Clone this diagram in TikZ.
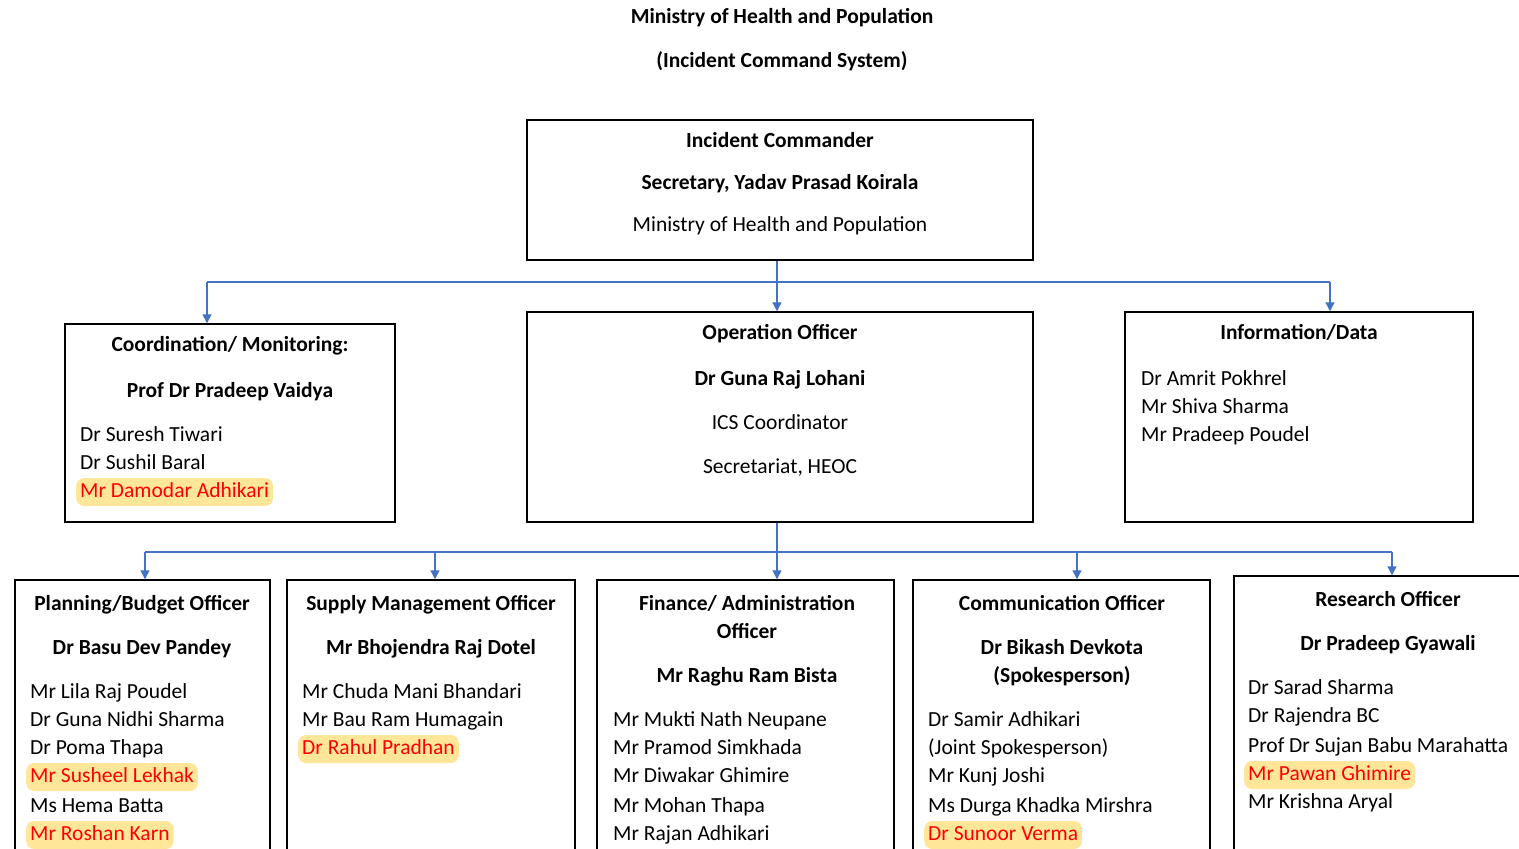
\documentclass[tikz,border=0pt]{standalone}
\usepackage{fontspec}
\setmainfont{Carlito}
\usetikzlibrary{arrows.meta}
\definecolor{connc}{HTML}{4472C4}
\definecolor{hl}{HTML}{FFE699}
\definecolor{redtxt}{HTML}{FF0000}
\begin{document}
\begin{tikzpicture}[x=1pt,y=-1pt,
 font=\fontsize{21.5}{26}\selectfont,
 box/.style={draw=black, line width=1.5pt, inner sep=0},
 ctr/.style={anchor=base, inner sep=0, yshift=1pt},
 bctr/.style={anchor=base, inner sep=0, yshift=1pt, font=\fontsize{21.5}{26}\selectfont\bfseries},
 nm/.style={anchor=base west, inner sep=0, yshift=1pt},
 hlnm/.style={anchor=base west, inner xsep=4pt, inner ysep=4pt, yshift=1pt, text height=15pt, text depth=5pt, fill=hl, rounded corners=8pt, text=redtxt},
 conn/.style={draw=connc, line width=1.3pt},
 arr/.style={conn, -{Triangle[width=9pt,length=9pt]}}]
\clip (0,0) rectangle (1519,849);
\fill[white] (0,0) rectangle (1519,849);

% title
\node[bctr] (title1) at (782,24) {Ministry of Health and Population};
\node[bctr] (title2) at (782,68) {(Incident Command System)};

% boxes
\node[box, minimum width=506pt, minimum height=140pt] (ic) at (780,190) {};
\node[box, minimum width=330pt, minimum height=198pt] (coord) at (230,423) {};
\node[box, minimum width=506pt, minimum height=210pt] (oper) at (780,417) {};
\node[box, minimum width=348pt, minimum height=210pt] (info) at (1299,417) {};
\node[box, minimum width=255pt, minimum height=290pt] (plan) at (142.5,725) {};
\node[box, minimum width=288pt, minimum height=290pt] (supply) at (431,725) {};
\node[box, minimum width=297pt, minimum height=290pt] (fin) at (745.5,725) {};
\node[box, minimum width=297pt, minimum height=290pt] (comm) at (1061.5,725) {};
\node[box, minimum width=306pt, minimum height=294pt] (res) at (1387,723) {};

% connectors level 1
\coordinate (j1) at (777,282);
\coordinate (a1) at (207,282);
\coordinate (a3) at (1330,282);
\draw[conn] (ic.south -| j1) -- (j1);
\draw[conn] (a1) -- (a3);
\draw[arr] (a1) -- (a1 |- coord.north);
\draw[arr] (j1) -- (j1 |- oper.north);
\draw[arr] (a3) -- (a3 |- info.north);

% connectors level 2
\coordinate (j2) at (777,552);
\coordinate (b1) at (145,552);
\coordinate (b2) at (435,552);
\coordinate (b4) at (1077,552);
\coordinate (b5) at (1392,552);
\draw[conn] (oper.south -| j2) -- (j2);
\draw[conn] (b1) -- (b5);
\draw[arr] (b1) -- (b1 |- plan.north);
\draw[arr] (b2) -- (b2 |- supply.north);
\draw[arr] (j2) -- (j2 |- fin.north);
\draw[arr] (b4) -- (b4 |- comm.north);
\draw[arr] (b5) -- (b5 |- res.north);

% incident commander
\node[bctr] (ic1) at (780,148) {Incident Commander};
\node[bctr] (ic2) at (780,190) {Secretary, Yadav Prasad Koirala};
\node[ctr] (ic3) at (780,232) {Ministry of Health and Population};

% coordination
\node[bctr] (co1) at (230,352) {Coordination/ Monitoring:};
\node[bctr] (co2) at (230,398) {Prof Dr Pradeep Vaidya};
\node[nm] (co3) at (80,442) {Dr Suresh Tiwari};
\node[nm] (co4) at (80,470) {Dr Sushil Baral};
\node[hlnm] (co5) at (76,498) {Mr Damodar Adhikari};

% operation
\node[bctr] (op1) at (780,340) {Operation Officer};
\node[bctr] (op2) at (780,386) {Dr Guna Raj Lohani};
\node[ctr] (op3) at (780,430) {ICS Coordinator};
\node[ctr] (op4) at (780,474) {Secretariat, HEOC};

% information
\node[bctr] (in1) at (1299,340) {Information/Data};
\node[nm] (in2) at (1141,386) {Dr Amrit Pokhrel};
\node[nm] (in3) at (1141,414) {Mr Shiva Sharma};
\node[nm] (in4) at (1141,442) {Mr Pradeep Poudel};

% planning
\node[bctr] (pl1) at (142,611) {Planning/Budget Officer};
\node[bctr] (pl2) at (142,655) {Dr Basu Dev Pandey};
\node[nm] (pl3) at (30,699) {Mr Lila Raj Poudel};
\node[nm] (pl4) at (30,727) {Dr Guna Nidhi Sharma};
\node[nm] (pl5) at (30,755) {Dr Poma Thapa};
\node[hlnm] (pl6) at (26,783) {Mr Susheel Lekhak};
\node[nm] (pl7) at (30,813) {Ms Hema Batta};
\node[hlnm] (pl8) at (26,841) {Mr Roshan Karn};

% supply
\node[bctr] (su1) at (431,611) {Supply Management Officer};
\node[bctr] (su2) at (431,655) {Mr Bhojendra Raj Dotel};
\node[nm] (su3) at (302,699) {Mr Chuda Mani Bhandari};
\node[nm] (su4) at (302,727) {Mr Bau Ram Humagain};
\node[hlnm] (su5) at (298,755) {Dr Rahul Pradhan};

% finance
\node[bctr] (fi1) at (747,611) {Finance/ Administration};
\node[bctr] (fi2) at (747,639) {Officer};
\node[bctr] (fi3) at (747,683) {Mr Raghu Ram Bista};
\node[nm] (fi4) at (613,727) {Mr Mukti Nath Neupane};
\node[nm] (fi5) at (613,755) {Mr Pramod Simkhada};
\node[nm] (fi6) at (613,783) {Mr Diwakar Ghimire};
\node[nm] (fi7) at (613,813) {Mr Mohan Thapa};
\node[nm] (fi8) at (613,841) {Mr Rajan Adhikari};

% communication
\node[bctr] (cm1) at (1062,611) {Communication Officer};
\node[bctr] (cm2) at (1062,655) {Dr Bikash Devkota};
\node[bctr] (cm3) at (1062,683) {(Spokesperson)};
\node[nm] (cm4) at (928,727) {Dr Samir Adhikari};
\node[nm] (cm5) at (928,755) {(Joint Spokesperson)};
\node[nm] (cm6) at (928,783) {Mr Kunj Joshi};
\node[nm] (cm7) at (928,813) {Ms Durga Khadka Mirshra};
\node[hlnm] (cm8) at (924,841) {Dr Sunoor Verma};

% research
\node[bctr] (re1) at (1388,607) {Research Officer};
\node[bctr] (re2) at (1388,651) {Dr Pradeep Gyawali};
\node[nm] (re3) at (1248,695) {Dr Sarad Sharma};
\node[nm] (re4) at (1248,723) {Dr Rajendra BC};
\node[nm] (re5) at (1248,753) {Prof Dr Sujan Babu Marahatta};
\node[hlnm] (re6) at (1244,781) {Mr Pawan Ghimire};
\node[nm] (re7) at (1248,809) {Mr Krishna Aryal};
\end{tikzpicture}
\end{document}
